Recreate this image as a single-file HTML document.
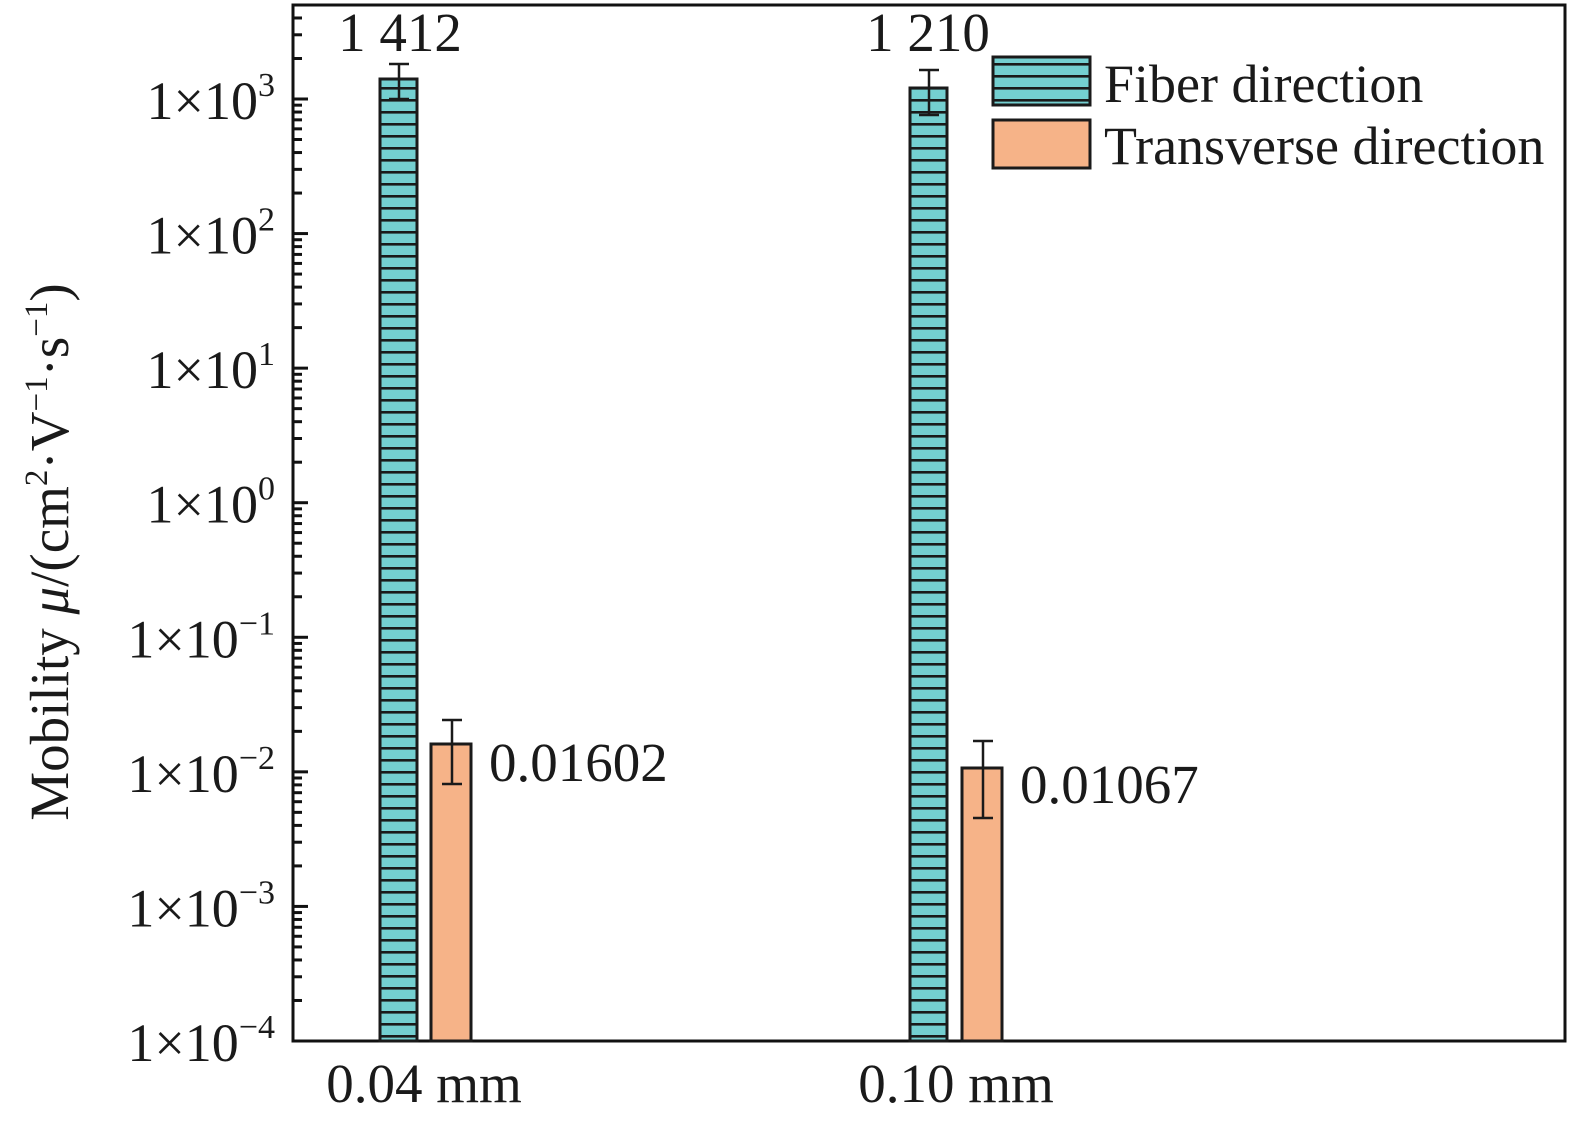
<!DOCTYPE html>
<html><head><meta charset="utf-8"><style>
html,body{margin:0;padding:0;background:#fff}
svg{display:block}
text{font-family:"Liberation Serif",serif;fill:#1a1a1a}
</style></head><body>
<svg id="s" width="1575" height="1125" viewBox="0 0 1575 1125" xmlns="http://www.w3.org/2000/svg">
<defs>
<pattern id="h" patternUnits="userSpaceOnUse" width="12" height="12" y="3">
<rect width="12" height="12" fill="#74cfd0"/>
<rect y="0" width="12" height="2.6" fill="#1a1a1a"/>
</pattern>
</defs>
<g id="ticks"></g>
<rect x="293" y="5" width="1272" height="1036" fill="none" stroke="#111" stroke-width="3"/>
<rect x="380" y="79" width="37" height="962" fill="url(#h)" stroke="#1a1a1a" stroke-width="3"/>
<rect x="910" y="88" width="37" height="953" fill="url(#h)" stroke="#1a1a1a" stroke-width="3"/>
<rect x="431" y="744" width="40" height="297" fill="#f6b388" stroke="#1a1a1a" stroke-width="3"/>
<rect x="962" y="768" width="40" height="273" fill="#f6b388" stroke="#1a1a1a" stroke-width="3"/>
<g stroke="#1a1a1a" stroke-width="2.5">
<line x1="399" y1="64" x2="399" y2="99"/><line x1="389" y1="64" x2="409" y2="64"/><line x1="389" y1="99" x2="409" y2="99"/>
<line x1="929" y1="70" x2="929" y2="115"/><line x1="919" y1="70" x2="939" y2="70"/><line x1="919" y1="115" x2="939" y2="115"/>
<line x1="452" y1="720" x2="452" y2="784"/><line x1="442" y1="720" x2="462" y2="720"/><line x1="442" y1="784" x2="462" y2="784"/>
<line x1="983" y1="741" x2="983" y2="818"/><line x1="973" y1="741" x2="993" y2="741"/><line x1="973" y1="818" x2="993" y2="818"/>
</g>
<g font-size="55">
<text x="400" y="51" text-anchor="middle">1 412</text>
<text x="928" y="51" text-anchor="middle">1 210</text>
<text x="489" y="781">0.01602</text>
<text x="1020" y="803">0.01067</text>
<text x="424" y="1102" text-anchor="middle">0.04 mm</text>
<text x="956" y="1102" text-anchor="middle">0.10 mm</text>
</g>
<rect x="993" y="57" width="97" height="48" fill="url(#h)" stroke="#1a1a1a" stroke-width="3"/>
<rect x="993" y="120" width="97" height="48" fill="#f6b388" stroke="#1a1a1a" stroke-width="3"/>
<text x="1104" y="102" font-size="54">Fiber direction</text>
<text x="1104" y="164" font-size="54">Transverse direction</text>
<g id="yl" font-size="54"></g>
<text transform="translate(68,552) rotate(-90)" text-anchor="middle" font-size="55">Mobility <tspan font-style="italic">μ</tspan>/(cm<tspan font-size="33" dy="-21">2</tspan><tspan dy="21">·V</tspan><tspan font-size="33" dy="-21">−1</tspan><tspan dy="21">·s</tspan><tspan font-size="33" dy="-21">−1</tspan><tspan dy="21">)</tspan></text>
</svg>
<script>
var ns="http://www.w3.org/2000/svg",t=document.getElementById("ticks"),yl=document.getElementById("yl");
var step=134.57,y3=99;
function Y(l){return y3-(l-3)*step;}
for(var d=-4;d<=3;d++){
 for(var m=1;m<=9;m++){
  var y=Y(d+Math.log10(m)); if(y<6)continue;
  var L=document.createElementNS(ns,"line");
  L.setAttribute("x1",293);L.setAttribute("x2",293+(m==1?15:9));
  L.setAttribute("y1",y);L.setAttribute("y2",y);
  L.setAttribute("stroke","#111");L.setAttribute("stroke-width","3");t.appendChild(L);
 }
 var tx=document.createElementNS(ns,"text");
 tx.setAttribute("x",275);tx.setAttribute("y",Y(d)+20);tx.setAttribute("text-anchor","end");
 var e=d<0?"−"+(-d):""+d;
 tx.innerHTML='1×10<tspan font-size="34" dy="-23">'+e+'</tspan>';
 yl.appendChild(tx);
}
</script>
</body></html>
